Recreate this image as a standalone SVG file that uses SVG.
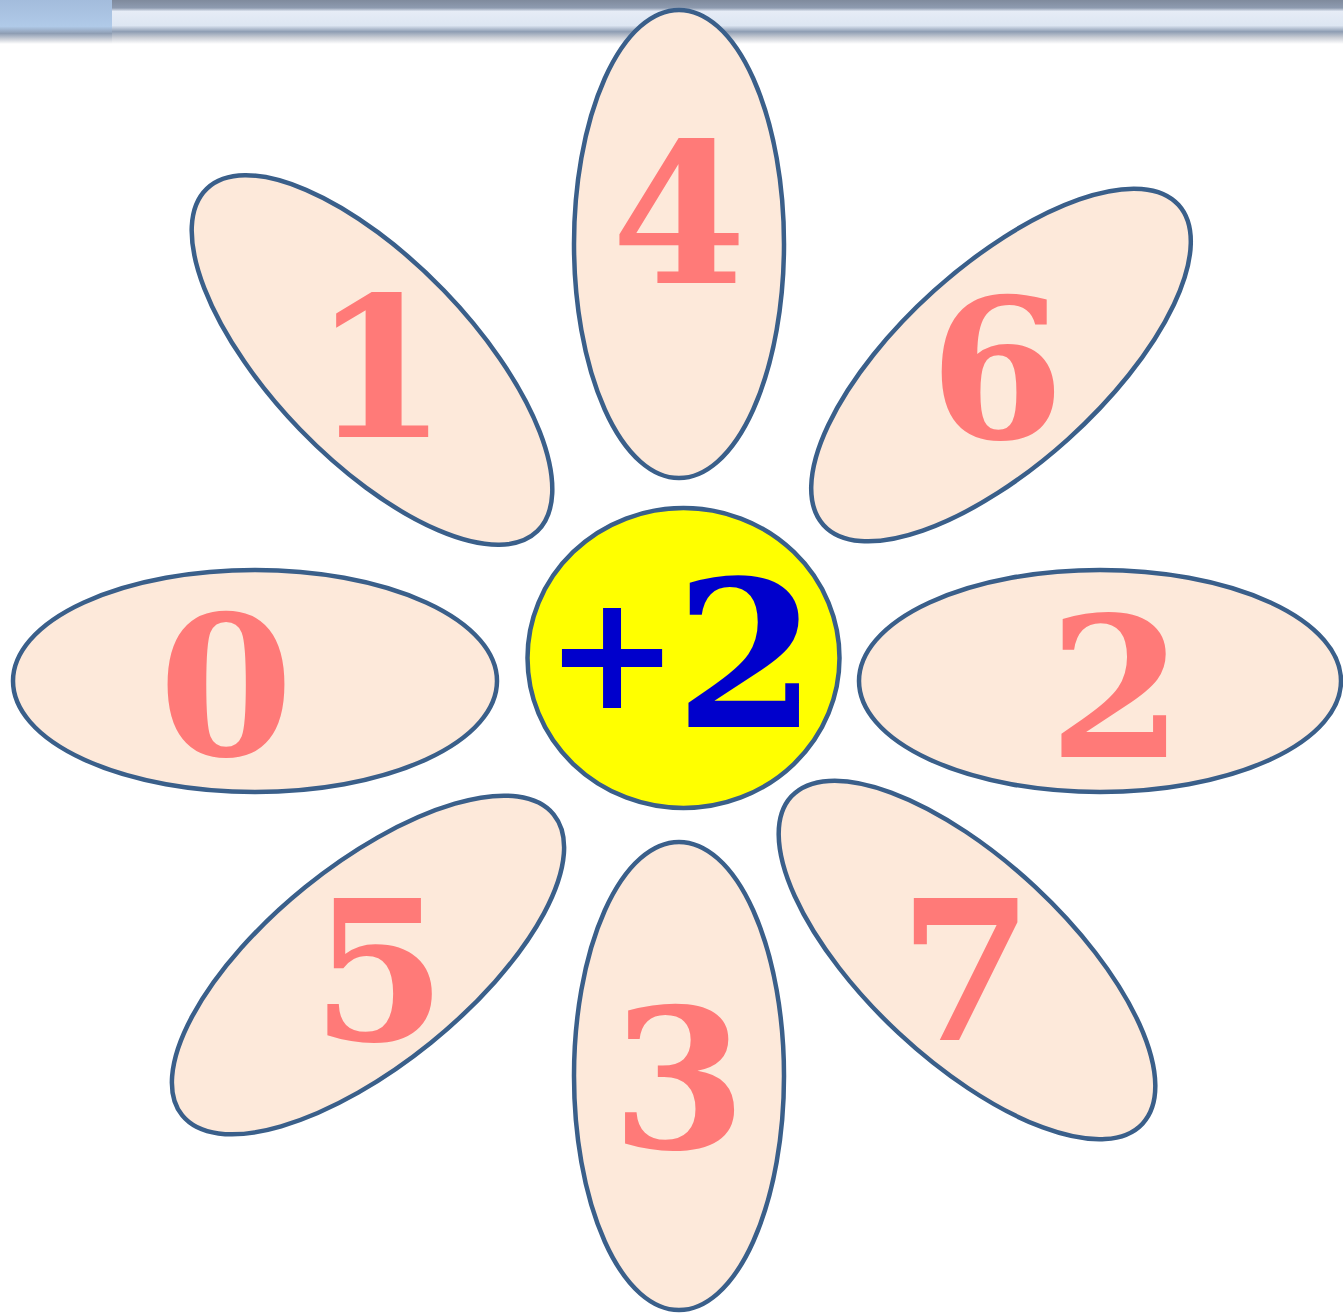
<svg xmlns="http://www.w3.org/2000/svg" width="1343" height="1313" viewBox="0 0 1343 1313">
<defs>
<linearGradient id="bar" x1="0" y1="0" x2="0" y2="1">
<stop offset="0" stop-color="#7f8a9c"/>
<stop offset="0.18" stop-color="#8e9bb0"/>
<stop offset="0.26" stop-color="#e6ecf6"/>
<stop offset="0.58" stop-color="#dde6f2"/>
<stop offset="0.72" stop-color="#8e9db3"/>
<stop offset="0.85" stop-color="#c8ccd4"/>
<stop offset="1" stop-color="#ffffff"/>
</linearGradient>
<linearGradient id="barL" x1="0" y1="0" x2="0" y2="1">
<stop offset="0" stop-color="#a3bcdc"/>
<stop offset="0.6" stop-color="#b0cae8"/>
<stop offset="0.76" stop-color="#8e9db3"/>
<stop offset="0.9" stop-color="#d0d4dc"/>
<stop offset="1" stop-color="#ffffff"/>
</linearGradient>
<style>
.petal{fill:#FDE9DA;stroke:#3A5F8A;stroke-width:4.5}
.num{font-family:"DejaVu Serif","Liberation Serif",serif;font-weight:bold;font-size:194px;fill:#FF7A78;text-anchor:middle}
.ctr{font-family:"DejaVu Serif","Liberation Serif",serif;font-weight:bold;font-size:205px;fill:#0000CC;text-anchor:middle}
</style>
</defs>
<rect width="1343" height="1313" fill="#ffffff"/>
<rect x="0" y="0" width="1343" height="44" fill="url(#bar)"/>
<rect x="0" y="0" width="112" height="44" fill="url(#barL)"/>
<g id="petal-4"><ellipse class="petal" cx="679" cy="244" rx="105" ry="234"/><text class="num" x="679" y="283">4</text></g>
<g id="petal-3"><ellipse class="petal" cx="679" cy="1076" rx="105" ry="234"/><text class="num" x="679" y="1148">3</text></g>
<g id="petal-0"><ellipse class="petal" cx="255" cy="681" rx="242" ry="111"/><text class="num" x="226" y="755">0</text></g>
<g id="petal-2"><ellipse class="petal" cx="1100" cy="681" rx="241" ry="111"/><text class="num" x="1116" y="757">2</text></g>
<g id="petal-1"><ellipse class="petal" cx="0" cy="0" rx="238" ry="100" transform="translate(372 360) rotate(46)"/><text class="num" x="380" y="437">1</text></g>
<g id="petal-6"><ellipse class="petal" cx="0" cy="0" rx="239" ry="100" transform="translate(1001 365) rotate(-42)"/><text class="num" x="997" y="438">6</text></g>
<g id="petal-5"><ellipse class="petal" cx="0" cy="0" rx="239" ry="100" transform="translate(368 965) rotate(-39)"/><text class="num" x="379" y="1040">5</text></g>
<g id="petal-7"><ellipse class="petal" cx="0" cy="0" rx="240" ry="100" transform="translate(967 960) rotate(43)"/><text class="num" x="966" y="1040">7</text></g>
<g id="center"><ellipse cx="683.5" cy="658" rx="156" ry="150" fill="#FFFF00" stroke="#3A5F8A" stroke-width="4.5"/><text class="ctr" y="727"><tspan x="612" dy="-19" font-size="160">+</tspan><tspan x="746" dy="19">2</tspan></text></g>
<g id="connectors"/>
</svg>
